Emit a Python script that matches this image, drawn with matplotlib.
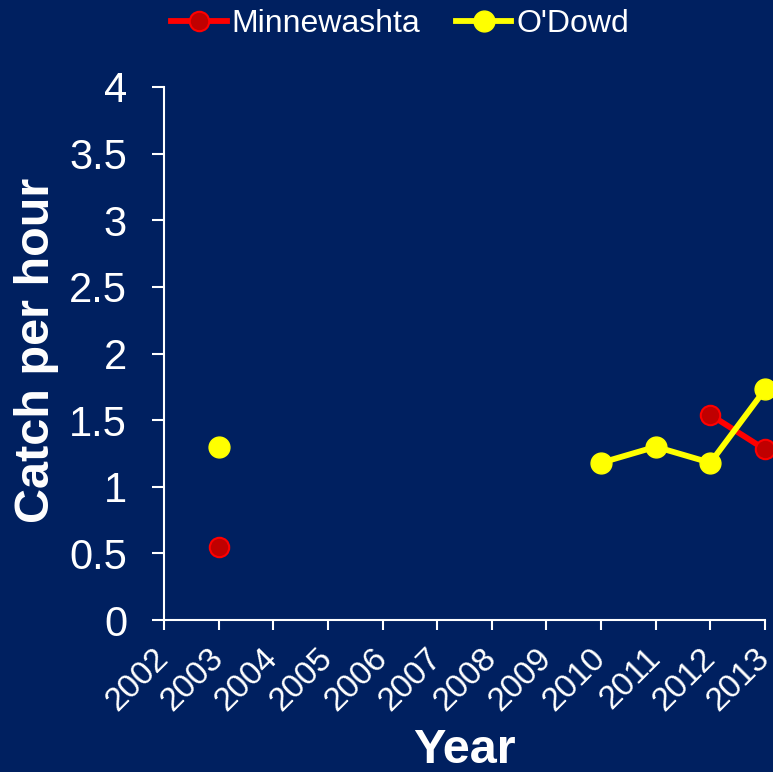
import matplotlib
matplotlib.use("Agg")
import matplotlib.pyplot as plt
import matplotlib.transforms as mtransforms
import numpy as np

years = [2002, 2003, 2004, 2005, 2006, 2007, 2008, 2009, 2010, 2011, 2012, 2013]
minne_x1 = [2003]
minne_y1 = [0.55]
minne_x2 = [2012, 2013]
minne_y2 = [1.54, 1.28]
odowd_x1 = [2003]
odowd_y1 = [1.30]
odowd_x2 = [2010, 2011, 2012, 2013]
odowd_y2 = [1.18, 1.30, 1.18, 1.73]
yticks = [0, 0.5, 1, 1.5, 2, 2.5, 3, 3.5, 4]

bg = "#002060"
plt.rcParams['font.family'] = ['Liberation Sans', 'DejaVu Sans']

fig = plt.figure(figsize=(7.73, 7.72), dpi=100, facecolor=bg)
ax = fig.add_axes([164/773, 1 - 620/772, (765-164)/773, (620-87)/772])
ax.set_facecolor(bg)

mkw_r = dict(color="#FF0000", lw=4.2, marker="o", ms=14, mfc="#C00000", mec="#FF0000", mew=1.5, clip_on=False, zorder=3)
mkw_y = dict(color="#FFFF00", lw=4.2, marker="o", ms=15, mfc="#FFFF00", mec="#FFFF00", mew=1, clip_on=False, zorder=3)

ax.plot(minne_x1, minne_y1, **mkw_r)
ln_r, = ax.plot(minne_x2, minne_y2, label="Minnewashta", **mkw_r)
ax.plot(odowd_x1, odowd_y1, **mkw_y)
ln_y, = ax.plot(odowd_x2, odowd_y2, label="O'Dowd", **mkw_y)

ax.set_xlim(2002, 2013)
ax.set_ylim(0, 4)
ax.set_xticks(years)
ax.set_xticklabels([str(y) for y in years], rotation=45, ha="right", va="center",
                   rotation_mode="anchor", fontsize=24, color="white")
offset = mtransforms.ScaledTranslation(2/100, 0, fig.dpi_scale_trans)
for lab in ax.get_xticklabels():
    lab.set_transform(lab.get_transform() + offset)
ax.set_yticks(yticks)
ax.set_yticklabels([f"{v:g}" for v in yticks], fontsize=30, color="white")
for s in ["top", "right"]:
    ax.spines[s].set_visible(False)
for s in ["left", "bottom"]:
    ax.spines[s].set_color("white")
    ax.spines[s].set_linewidth(1.5)
ax.tick_params(axis="both", colors="white", width=1.5, direction="out")
ax.tick_params(axis="y", length=8.6, pad=18)
ax.tick_params(axis="x", length=7, pad=17)

ax.set_xlabel("Year", fontsize=35, fontweight="bold", color="white")
ax.xaxis.set_label_coords(0.5, -0.202)
ax.set_ylabel("Catch per hour", fontsize=35, fontweight="bold", color="white")
ax.yaxis.set_label_coords(-0.175, 0.505)

leg = fig.legend(handles=[ln_r, ln_y], loc="center", bbox_to_anchor=(400/773, 1 - 24/772), ncol=2,
                 frameon=False, fontsize=23, handlelength=1.75, columnspacing=1.1, handletextpad=0.15,
                 borderpad=0, borderaxespad=0)
for t in leg.get_texts():
    t.set_color("white")

fig.savefig("out.png", dpi=100, facecolor=bg)
